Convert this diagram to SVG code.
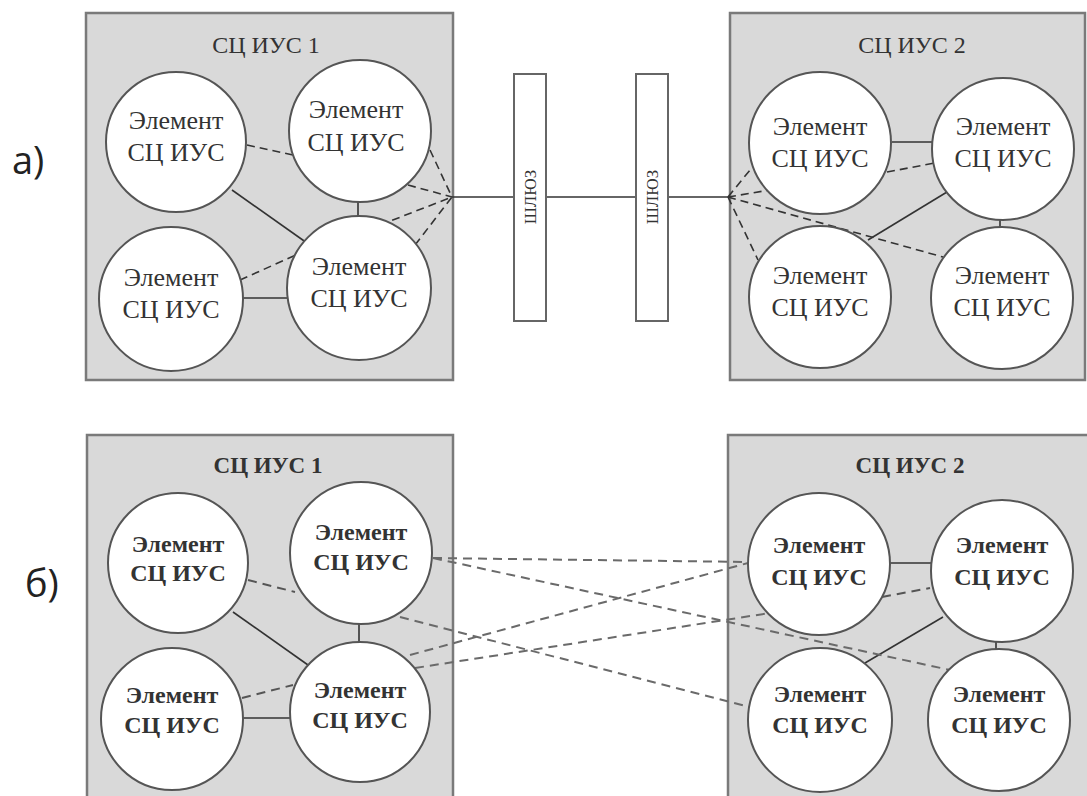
<svg xmlns="http://www.w3.org/2000/svg" width="1087" height="796" viewBox="0 0 1087 796">
<style>
.box{fill:#d9d9d9;stroke:#7a7a7a;stroke-width:2.5}
.c{fill:#fff;stroke:#555;stroke-width:2}
.gw{fill:#fff;stroke:#666;stroke-width:2}
.t{font-family:"Liberation Serif","DejaVu Serif",serif;font-size:26px;fill:#333;text-anchor:middle}
.tb{font-family:"Liberation Serif","DejaVu Serif",serif;font-size:24px;font-weight:bold;fill:#333;text-anchor:middle}
.ti{font-family:"Liberation Serif","DejaVu Serif",serif;font-size:24px;fill:#333;text-anchor:middle}
.tib{font-family:"Liberation Serif","DejaVu Serif",serif;font-size:23px;font-weight:bold;fill:#333;text-anchor:middle}
.gt{font-family:"Liberation Serif","DejaVu Serif",serif;font-size:17px;fill:#333;text-anchor:middle}
.lbl{font-family:"Open Sans","Noto Sans","DejaVu Sans",sans-serif;font-size:38px;fill:#222}
.s{stroke:#333;stroke-width:1.6;fill:none}
.d{stroke:#333;stroke-width:1.6;fill:none;stroke-dasharray:8 5}
.d2{stroke:#555;stroke-width:2;fill:none;stroke-dasharray:9 6}
.d3{stroke:#6a6a6a;stroke-width:2;fill:none;stroke-dasharray:9 6}
</style>

<text class="lbl" x="12" y="174">а)</text>
<text class="lbl" x="25" y="597">б)</text>

<g id="sys1a"><rect class="box" x="86" y="13" width="367" height="367"/><text class="ti" x="266" y="53">СЦ ИУС 1</text></g>
<g id="sys2a"><rect class="box" x="730" y="13" width="355" height="367"/><text class="ti" x="912" y="53">СЦ ИУС 2</text></g>
<g id="sys1b"><rect class="box" x="87" y="435" width="366" height="375"/><text class="tib" x="268" y="473">СЦ ИУС 1</text></g>
<g id="sys2b"><rect class="box" x="728" y="435" width="365" height="375"/><text class="tib" x="910" y="473">СЦ ИУС 2</text></g>

<g id="connectors">
  <line class="s" x1="232" y1="190" x2="307" y2="243"/>
  <line class="s" x1="358" y1="202" x2="358" y2="222"/>
  <line class="s" x1="243" y1="298" x2="290" y2="298"/>
  <line class="d" x1="247" y1="145" x2="293" y2="155"/>
  <line class="d" x1="240" y1="280" x2="307" y2="250"/>
  <line class="d" x1="430" y1="150" x2="452" y2="197"/>
  <line class="d" x1="408" y1="185" x2="452" y2="197"/>
  <line class="d" x1="380" y1="225" x2="452" y2="197"/>
  <line class="d" x1="415" y1="245" x2="452" y2="197"/>
  <line class="s" x1="452" y1="197" x2="728" y2="197"/>
  <line class="s" x1="892" y1="142" x2="933" y2="142"/>
  <line class="s" x1="947" y1="192" x2="868" y2="240"/>
  <line class="s" x1="1000" y1="220" x2="1000" y2="228"/>
  <line class="d" x1="887" y1="172" x2="935" y2="163"/>
  <line class="d" x1="728" y1="197" x2="750" y2="170"/>
  <line class="d" x1="728" y1="197" x2="770" y2="190"/>
  <line class="d" x1="728" y1="197" x2="758" y2="260"/>
  <line class="d" x1="728" y1="197" x2="943" y2="257"/>
  <line class="s" x1="233" y1="612" x2="308" y2="665"/>
  <line class="s" x1="359" y1="623" x2="359" y2="642"/>
  <line class="s" x1="243" y1="718" x2="292" y2="718"/>
  <line class="d2" x1="248" y1="580" x2="295" y2="592"/>
  <line class="d2" x1="242" y1="698" x2="293" y2="685"/>
  <line class="s" x1="890" y1="563" x2="932" y2="563"/>
  <line class="s" x1="943" y1="617" x2="865" y2="663"/>
  <line class="s" x1="996" y1="642" x2="996" y2="650"/>
  <line class="d2" x1="882" y1="597" x2="930" y2="588"/>
  <line class="d3" x1="433" y1="558" x2="748" y2="562"/>
  <line class="d3" x1="433" y1="558" x2="950" y2="670"/>
  <line class="d3" x1="400" y1="617" x2="750" y2="707"/>
  <line class="d3" x1="410" y1="655" x2="748" y2="563"/>
  <line class="d3" x1="415" y1="668" x2="770" y2="613"/>
</g>

<g id="gw1"><rect class="gw" x="514" y="74" width="32" height="247"/><text class="gt" transform="translate(530,197) rotate(-90)" x="0" y="6">ШЛЮЗ</text></g>
<g id="gw2"><rect class="gw" x="636" y="74" width="32" height="247"/><text class="gt" transform="translate(652,197) rotate(-90)" x="0" y="6">ШЛЮЗ</text></g>

<g id="a1"><circle class="c" cx="176" cy="142" r="70"/><text class="t" x="176" y="129">Элемент</text><text class="t" x="176" y="161">СЦ ИУС</text></g>
<g id="a2"><circle class="c" cx="360" cy="131" r="71"/><text class="t" x="356" y="118">Элемент</text><text class="t" x="356" y="151">СЦ ИУС</text></g>
<g id="a3"><circle class="c" cx="171" cy="299" r="72"/><text class="t" x="171" y="286">Элемент</text><text class="t" x="171" y="318">СЦ ИУС</text></g>
<g id="a4"><circle class="c" cx="359" cy="288" r="72"/><text class="t" x="359" y="275">Элемент</text><text class="t" x="359" y="307">СЦ ИУС</text></g>
<g id="a5"><circle class="c" cx="820" cy="143" r="71"/><text class="t" x="820" y="135">Элемент</text><text class="t" x="820" y="167">СЦ ИУС</text></g>
<g id="a6"><circle class="c" cx="1003" cy="149" r="71"/><text class="t" x="1003" y="135">Элемент</text><text class="t" x="1003" y="167">СЦ ИУС</text></g>
<g id="a7"><circle class="c" cx="820" cy="297" r="71"/><text class="t" x="820" y="284">Элемент</text><text class="t" x="820" y="316">СЦ ИУС</text></g>
<g id="a8"><circle class="c" cx="1002" cy="298" r="71"/><text class="t" x="1002" y="284">Элемент</text><text class="t" x="1002" y="316">СЦ ИУС</text></g>

<g id="b1"><circle class="c" cx="178" cy="563" r="70"/><text class="tb" x="178" y="552">Элемент</text><text class="tb" x="178" y="581">СЦ ИУС</text></g>
<g id="b2"><circle class="c" cx="361" cy="553" r="71"/><text class="tb" x="361" y="540">Элемент</text><text class="tb" x="361" y="570">СЦ ИУС</text></g>
<g id="b3"><circle class="c" cx="172" cy="719" r="71"/><text class="tb" x="172" y="703">Элемент</text><text class="tb" x="172" y="733">СЦ ИУС</text></g>
<g id="b4"><circle class="c" cx="360" cy="712" r="70"/><text class="tb" x="360" y="698">Элемент</text><text class="tb" x="360" y="728">СЦ ИУС</text></g>
<g id="b5"><circle class="c" cx="819" cy="564" r="71"/><text class="tb" x="819" y="553">Элемент</text><text class="tb" x="819" y="585">СЦ ИУС</text></g>
<g id="b6"><circle class="c" cx="1002" cy="571" r="71"/><text class="tb" x="1002" y="553">Элемент</text><text class="tb" x="1002" y="585">СЦ ИУС</text></g>
<g id="b7"><circle class="c" cx="820" cy="720" r="72"/><text class="tb" x="820" y="702">Элемент</text><text class="tb" x="820" y="733">СЦ ИУС</text></g>
<g id="b8"><circle class="c" cx="999" cy="720" r="71"/><text class="tb" x="999" y="702">Элемент</text><text class="tb" x="999" y="733">СЦ ИУС</text></g>
</svg>
